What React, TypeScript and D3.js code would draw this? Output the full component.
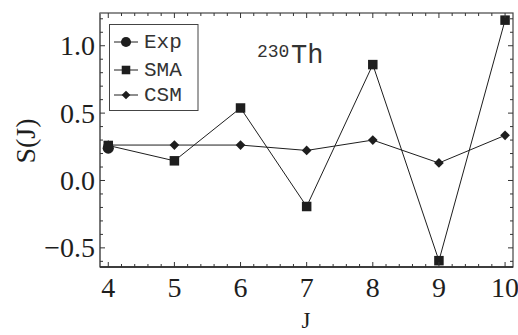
import React from "react";
import * as d3 from "d3";

const J = [4, 5, 6, 7, 8, 9, 10];
const expJ = [4];
const expValues = [0.24];
const smaValues = [0.26, 0.146, 0.538, -0.193, 0.86, -0.595, 1.19];
const csmValues = [0.263, 0.263, 0.263, 0.223, 0.30, 0.13, 0.335];
const xTicks = [4, 5, 6, 7, 8, 9, 10];
const yTicks = [-0.5, 0.0, 0.5, 1.0];

const W = 518, H = 335;
const left = 100, right = 513, top = 13, bottom = 267;

export default function App() {
  const x = d3.scaleLinear().domain([3.875, 10.12]).range([left, right]);
  const y = d3.scaleLinear().domain([-0.642, 1.243]).range([bottom, top]);
  const line = d3.line<[number, number]>().x(d => x(d[0])).y(d => y(d[1]));
  const xMinor = d3.range(3.8, 10.2, 0.2).filter(v => v >= 3.875 && v <= 10.12 && Math.abs(v - Math.round(v)) > 1e-6);
  const yMinor = d3.range(-0.6, 1.25, 0.1).filter(v => v >= -0.642 && v <= 1.243 && Math.abs(v * 2 - Math.round(v * 2)) > 1e-6);
  const diamond = d3.symbol().type(d3.symbolDiamond2).size(60)();
  const serif = "Liberation Serif, Times New Roman, Times, serif";
  const mono = "Liberation Mono, Courier New, Courier, monospace";
  const ink = "#1e1e1e";
  const sq = 9.5;

  const legend = [
    { label: "Exp", y: 42, kind: "circle" },
    { label: "SMA", y: 70, kind: "square" },
    { label: "CSM", y: 95, kind: "diamond" },
  ];
  const marker = (kind: string, cx: number, cy: number, key: string, s = 1) => {
    if (kind === "circle") return <circle key={key} cx={cx} cy={cy} r={5.6 * s} fill={ink} />;
    if (kind === "square") return <rect key={key} x={cx - (sq * s) / 2} y={cy - (sq * s) / 2} width={sq * s} height={sq * s} fill={ink} />;
    return <path key={key} d={diamond!} transform={`translate(${cx},${cy}) scale(${s})`} fill={ink} />;
  };

  return (
    <svg width={W} height={H} style={{ position: "absolute", left: 0, top: 0, background: "#fff" }}>
      <rect x={0} y={0} width={W} height={H} fill="#fff" />
      <path d={line(J.map((j, i) => [j, csmValues[i]]))!} fill="none" stroke={ink} strokeWidth={1} />
      <path d={line(J.map((j, i) => [j, smaValues[i]]))!} fill="none" stroke={ink} strokeWidth={1} />
      {J.map((j, i) => marker("diamond", x(j), y(csmValues[i]), "c" + i))}
      {J.map((j, i) => marker("square", x(j), y(smaValues[i]), "s" + i))}
      {expJ.map((j, i) => marker("circle", x(j), y(expValues[i]), "e" + i))}

      <rect x={left} y={top} width={right - left} height={bottom - top} fill="none" stroke="#444" strokeWidth={1.2} />
      <line x1={left} x2={left} y1={top} y2={bottom} stroke="#777" strokeWidth={2} />
      <line x1={left} x2={right} y1={bottom} y2={bottom} stroke="#222" strokeWidth={1.4} />

      {xTicks.map(t => (
        <g key={"xt" + t}>
          <line x1={x(t)} x2={x(t)} y1={bottom} y2={bottom - 5} stroke="#333" />
          <line x1={x(t)} x2={x(t)} y1={top} y2={top + 5} stroke="#333" />
          <text x={x(t)} y={bottom + 30} textAnchor="middle" fontFamily={serif} fontSize={28} fill={ink}>{t}</text>
        </g>
      ))}
      {xMinor.map((t, i) => (
        <g key={"xm" + i}>
          <line x1={x(t)} x2={x(t)} y1={bottom} y2={bottom - 3} stroke="#333" />
          <line x1={x(t)} x2={x(t)} y1={top} y2={top + 3} stroke="#333" />
        </g>
      ))}
      {yTicks.map(t => (
        <g key={"yt" + t}>
          <line x1={left} x2={left + 5} y1={y(t)} y2={y(t)} stroke="#333" />
          <line x1={right} x2={right - 5} y1={y(t)} y2={y(t)} stroke="#333" />
          <text x={left - 5} y={y(t) + 9.5} textAnchor="end" fontFamily={serif} fontSize={28} fill={ink}>
            {t < 0 ? "\u2212" + Math.abs(t).toFixed(1) : t.toFixed(1)}
          </text>
        </g>
      ))}
      {yMinor.map((t, i) => (
        <g key={"ym" + i}>
          <line x1={left} x2={left + 3} y1={y(t)} y2={y(t)} stroke="#333" />
          <line x1={right} x2={right - 3} y1={y(t)} y2={y(t)} stroke="#333" />
        </g>
      ))}

      <text x={306} y={328} textAnchor="middle" fontFamily={serif} fontSize={23} fill={ink}>J</text>
      <text transform="translate(35,141) rotate(-90)" textAnchor="middle" fontFamily={serif} fontSize={28} fill={ink}>S(J)</text>

      <text x={257} y={57} fontFamily={mono} fontSize={18} fill="#333">230</text>
      <text x={291} y={63} fontFamily={mono} fontSize={27} fill="#333">Th</text>

      <rect x={109.5} y={24.5} width={88.5} height={86} fill="#fff" stroke="#444" strokeWidth={1} />
      {legend.map(l => (
        <g key={l.label}>
          <line x1={114} x2={138} y1={l.y} y2={l.y} stroke={ink} />
          {marker(l.kind, 126, l.y, "lm" + l.label, 0.9)}
          <text x={144} y={l.y + 6} fontFamily={mono} fontSize={21} fill="#333">{l.label}</text>
        </g>
      ))}
    </svg>
  );
}
